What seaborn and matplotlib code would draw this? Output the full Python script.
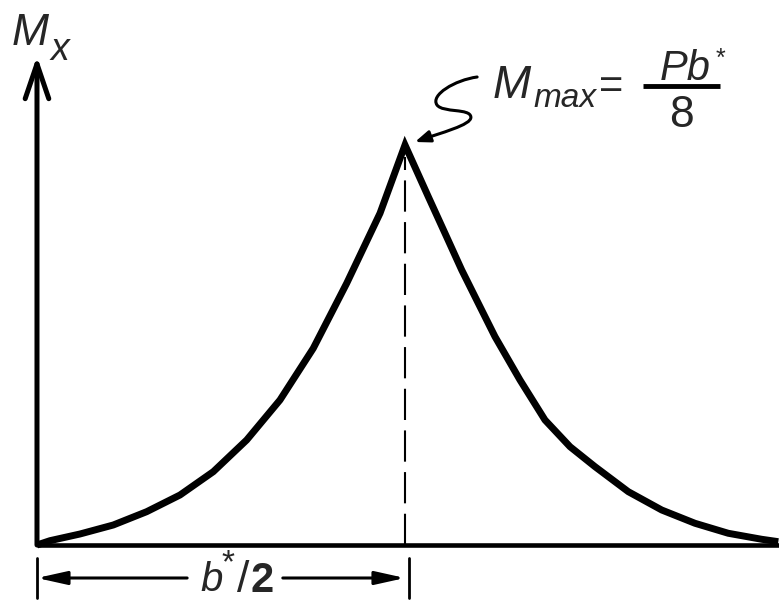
import matplotlib
matplotlib.use("Agg")
import matplotlib.pyplot as plt
from matplotlib.path import Path
from matplotlib.patches import FancyArrowPatch
import pandas as pd
import seaborn as sns

# Bending moment along the beam: x in units of b*/2, M in units of M_max
x_pos = [0.0, 0.0353, 0.1168, 0.2073, 0.2981, 0.3886, 0.4791, 0.5698, 0.6603,
         0.7508, 0.8416, 0.9321, 1.0,
         1.0633, 1.1087, 1.1541, 1.1992, 1.2446, 1.3125, 1.3804, 1.4484,
         1.5163, 1.6068, 1.6976, 1.788, 1.8785, 1.9693, 2.0144]
moment = [0.0, 0.0108, 0.0275, 0.05, 0.0833, 0.125, 0.1833, 0.2625, 0.3625,
          0.4918, 0.6543, 0.8293, 1.0,
          0.8708, 0.7793, 0.6875, 0.6043, 0.5208, 0.4125, 0.3125, 0.2458,
          0.1958, 0.1333, 0.0875, 0.0543, 0.0293, 0.0143, 0.0083]
half_span = 1.0  # b*/2

sns.set_theme(style="white")
plt.rcParams["font.family"] = ["Liberation Sans", "DejaVu Sans"]

fig = plt.figure(figsize=(7.79, 6.03), dpi=100)
ax = fig.add_axes([0, 0, 1, 1])
ax.set_xlim(-0.1005, 2.0163)
ax.set_ylim(-0.145, 1.3625)
ax.axis("off")

df = pd.DataFrame({"x": x_pos, "M": moment})
sns.lineplot(data=df, x="x", y="M", color="black", linewidth=5.0, ax=ax,
             solid_joinstyle="miter", solid_capstyle="butt", legend=False)

# axes
ax.plot([0, 2.02], [0, 0], color="black", lw=3.3, solid_capstyle="butt")
ax.annotate("", xy=(0, 1.222), xytext=(0, 0),
            arrowprops=dict(arrowstyle="->,head_length=2.5,head_width=0.85",
                            lw=3.6, color="black", shrinkA=0, shrinkB=0,
                            mutation_scale=10))

# dashed line under the peak
ax.plot([half_span, half_span], [0, 0.97], color="black", lw=1.5,
        dashes=(15, 5))

# dimension line b*/2
dim_y = -0.0825
for xt in (0.0, half_span + 0.012):
    ax.plot([xt, xt], [-0.0325, -0.1325], color="black", lw=2.0)
ax.annotate("", xy=(0.0, dim_y), xytext=(0.408, dim_y),
            arrowprops=dict(arrowstyle="-|>,head_length=1.8,head_width=0.4",
                            lw=2.2, color="black", shrinkA=0, shrinkB=0,
                            mutation_scale=10))
ax.annotate("", xy=(half_span, dim_y), xytext=(0.668, dim_y),
            arrowprops=dict(arrowstyle="-|>,head_length=1.8,head_width=0.4",
                            lw=2.2, color="black", shrinkA=0, shrinkB=0,
                            mutation_scale=10))
ax.text(0.443, -0.115, "b", fontsize=29, fontstyle="italic", ha="left", va="baseline")
ax.text(0.519, -0.0675, "*", fontsize=24, ha="center", va="baseline")
ax.text(0.560, -0.117, "/", fontsize=32, ha="center", va="baseline")
ax.text(0.580, -0.117, "2", fontsize=30, fontweight="bold", ha="left", va="baseline")

# axis label M_x
ax.text(-0.068, 1.25, "M", fontsize=32, fontstyle="italic", ha="left", va="baseline")
ax.text(0.036, 1.2125, "x", fontsize=27, fontstyle="italic", ha="left", va="baseline")

# M_max = Pb*/8
ax.text(1.239, 1.1175, "M", fontsize=33, fontstyle="italic", ha="left", va="baseline")
ax.text(1.348, 1.095, "max", fontsize=24, fontstyle="italic", ha="left", va="baseline")
ax.text(1.56, 1.1175, "=", fontsize=30, ha="center", va="baseline")
ax.text(1.761, 1.1625, "Pb", fontsize=30, fontstyle="italic", ha="center", va="baseline")
ax.text(1.856, 1.1975, "*", fontsize=18, ha="center", va="baseline")
ax.plot([1.647, 1.856], [1.1475, 1.1475], color="black", lw=3.5, solid_capstyle="butt")
ax.text(1.75, 1.045, "8", fontsize=32, ha="center", va="baseline")

# curly leader pointing at the peak
verts = [(1.196, 1.17),
         (1.136, 1.1625), (1.068, 1.125), (1.087, 1.1),
         (1.103, 1.08), (1.177, 1.0925), (1.179, 1.07),
         (1.182, 1.05), (1.095, 1.03), (1.027, 1.0075)]
codes = [Path.MOVETO] + [Path.CURVE4] * 9
leader = FancyArrowPatch(path=Path(verts, codes),
                         arrowstyle="-|>,head_length=0.9,head_width=0.35",
                         mutation_scale=10, lw=2.2, color="black",
                         transform=ax.transData)
ax.add_patch(leader)

fig.savefig("out.png", dpi=100, facecolor="white")
